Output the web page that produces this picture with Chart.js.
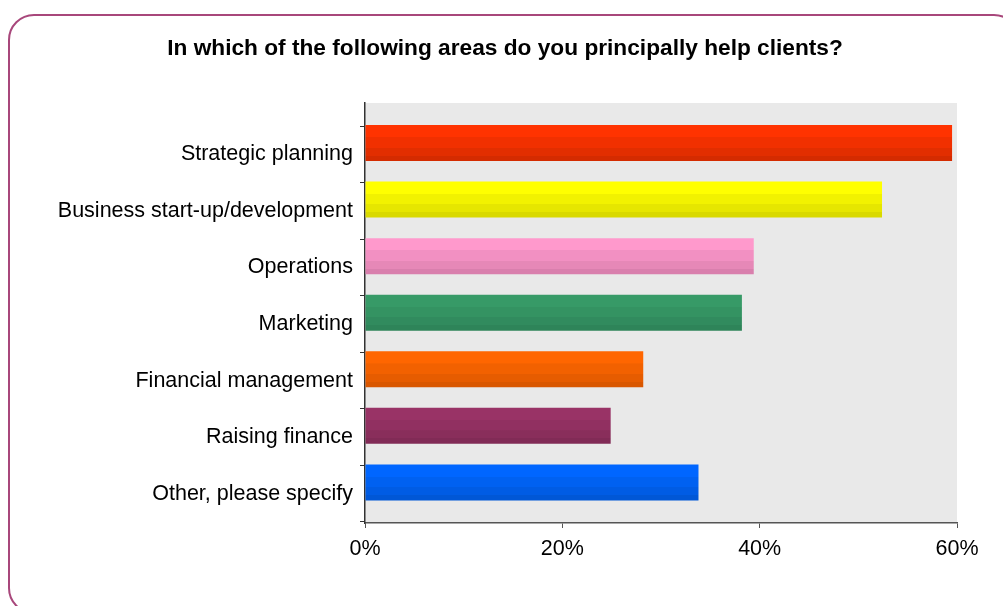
<!DOCTYPE html>
<html>
<head>
<meta charset="utf-8">
<script src="https://cdn.jsdelivr.net/npm/chart.js@4/dist/chart.umd.min.js"></script>
<style>
  html, body { margin: 0; padding: 0; background: #fff; overflow: hidden; }
  #wrap { position: relative; width: 1003px; height: 606px; }
  #frame {
    position: absolute; left: 8px; top: 14px; width: 1012px; height: 600px;
    border: 2px solid #a8477b; border-radius: 26px; box-sizing: border-box;
    pointer-events: none;
  }
  canvas { position: absolute; left: 0; top: 0; }
</style>
</head>
<body>
<div id="wrap">
  <div id="frame"></div>
  <canvas id="areasChart" width="1003" height="606"></canvas>
</div>
<script>
// Survey answers, share of respondents (%)
const categories = [
  'Strategic planning',
  'Business start-up/development',
  'Operations',
  'Marketing',
  'Financial management',
  'Raising finance',
  'Other, please specify'
];
const shares = [59.5, 52.4, 39.4, 38.2, 28.2, 24.9, 33.8];
const xTicks = [0, 20, 40, 60];

// top and bottom shade of each bar
const topColors = ['#ff3300', '#ffff00', '#ff99cc', '#379a67', '#ff6600', '#993366', '#0066ff'];
const bottomColors = ['#d42b00', '#d9d900', '#d97fad', '#2e8459', '#d95700', '#812b56', '#0057d6'];

const FONT = '"Liberation Sans", Arial, sans-serif';

// bars sit at the top of each slot, the labels in the middle of it
const LABEL_SHIFT = 0.2;

function hexToRgb(h) {
  const n = parseInt(h.slice(1), 16);
  return [(n >> 16) & 255, (n >> 8) & 255, n & 255];
}
function mix(a, b, t) {
  const ca = hexToRgb(a), cb = hexToRgb(b);
  const c = ca.map((v, i) => Math.round(v + (cb[i] - v) * t));
  return 'rgb(' + c.join(',') + ')';
}

// banded vertical shading, bands get thinner towards the bottom
const bandStops = [0, 0.34, 0.63, 0.85, 1];
function barFill(ctx) {
  const chart = ctx.chart;
  const i = ctx.dataIndex;
  if (!chart.chartArea || ctx.type !== 'data') return topColors[i];
  const yScale = chart.scales.y;
  const mid = yScale.getPixelForValue(i);
  const half = Math.abs(yScale.getPixelForValue(1) - yScale.getPixelForValue(0)) * 0.636 / 2;
  const g = chart.ctx.createLinearGradient(0, mid - half, 0, mid + half);
  for (let b = 0; b < bandStops.length - 1; b++) {
    const col = mix(topColors[i], bottomColors[i], b / (bandStops.length - 2));
    g.addColorStop(bandStops[b], col);
    g.addColorStop(bandStops[b + 1] - 0.001, col);
  }
  g.addColorStop(1, bottomColors[i]);
  return g;
}

const plotBackground = {
  id: 'plotBackground',
  beforeDraw(chart) {
    const { ctx, chartArea: a } = chart;
    ctx.save();
    ctx.fillStyle = '#e9e9e9';
    ctx.fillRect(a.left, a.top, a.right - a.left, a.bottom - a.top);
    ctx.restore();
  }
};

new Chart(document.getElementById('areasChart'), {
  type: 'bar',
  data: {
    datasets: [{
      data: shares.map((v, i) => ({ x: v, y: i })),
      backgroundColor: barFill,
      barPercentage: 0.636,
      categoryPercentage: 1.0,
      borderWidth: 0
    }]
  },
  options: {
    indexAxis: 'y',
    responsive: false,
    animation: false,
    layout: { padding: { left: 7, right: 0, top: 0, bottom: 0 } },
    plugins: {
      legend: { display: false },
      tooltip: { enabled: false },
      title: {
        display: true,
        text: 'In which of the following areas do you principally help clients?',
        color: '#000',
        font: { family: FONT, size: 22.7, weight: 'bold' },
        padding: { top: 35.4, bottom: 40.4 }
      }
    },
    scales: {
      x: {
        type: 'linear',
        min: 0,
        max: 60,
        afterBuildTicks: (axis) => { axis.ticks = xTicks.map(v => ({ value: v })); },
        afterFit: (axis) => { axis.height = 83; },
        ticks: {
          color: '#000',
          font: { family: FONT, size: 21.5 },
          padding: 8,
          callback: (v) => v + '%'
        },
        grid: { drawOnChartArea: false, tickLength: 5, color: '#555', lineWidth: 1 },
        border: { color: '#555', width: 1.5 }
      },
      y: {
        type: 'linear',
        reverse: true,
        offset: false,
        min: -0.707,
        max: 6.718,
        afterBuildTicks: (axis) => {
          axis.ticks = categories.map((c, i) => ({ value: i + LABEL_SHIFT }));
        },
        afterFit: (axis) => { axis.width = 358; },
        ticks: {
          color: '#000',
          font: { family: FONT, size: 21.5 },
          padding: 7,
          callback: (v, idx) => categories[idx]
        },
        grid: { offset: true, drawOnChartArea: false, tickLength: 5, color: '#333', lineWidth: 1 },
        border: { color: '#333', width: 1.5 }
      },
      // empty strip on the right of the plot
      pad: {
        type: 'linear',
        axis: 'y',
        position: 'right',
        ticks: { display: false },
        grid: { display: false },
        border: { display: false },
        afterFit: (axis) => { axis.width = 46; }
      }
    }
  },
  plugins: [plotBackground]
});
</script>
</body>
</html>
